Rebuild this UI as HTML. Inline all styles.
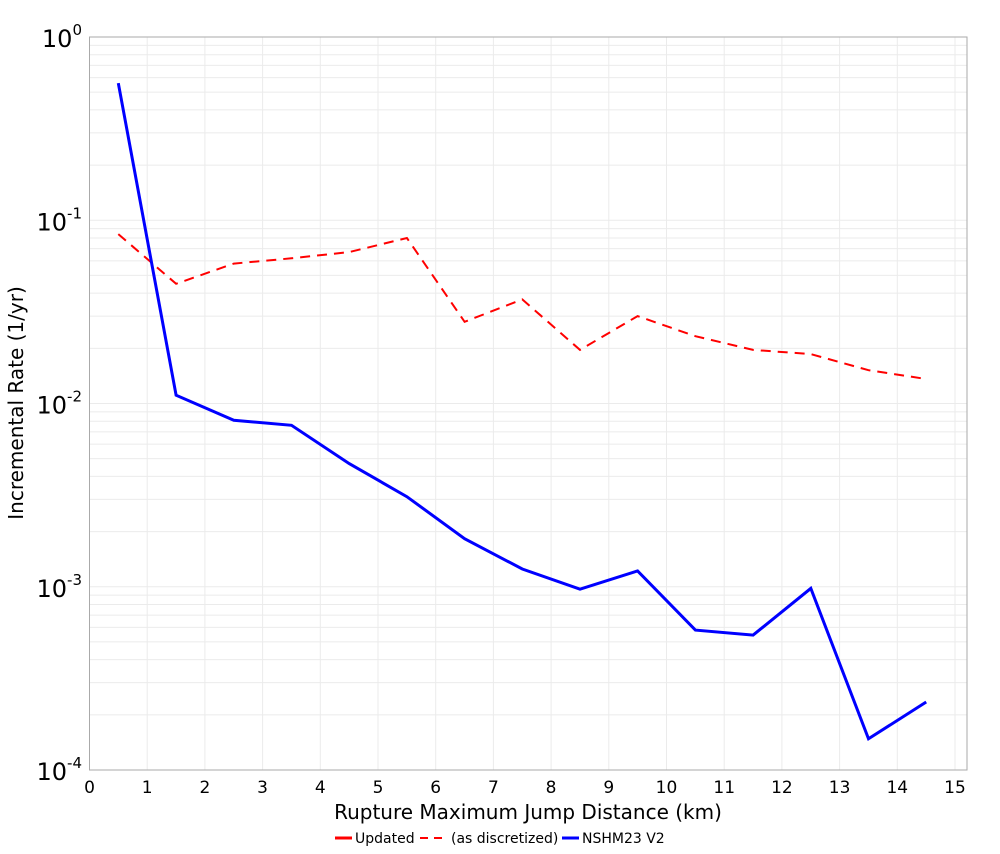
<!DOCTYPE html>
<html><head><meta charset="utf-8"><style>
body{margin:0;background:#fff;font-family:"DejaVu Sans","Liberation Sans",sans-serif}
</style></head><body>
<svg id="chart" width="1000" height="850" xmlns="http://www.w3.org/2000/svg">
<g id="grid"></g>
<g id="axes"></g>
<g id="series"></g>
<text x="528" y="819" text-anchor="middle" font-size="20">Rupture Maximum Jump Distance (km)</text>
<text transform="translate(23,403) rotate(-90)" text-anchor="middle" font-size="20">Incremental Rate (1/yr)</text>
<g font-size="14">
<g><line x1="335" y1="838" x2="352" y2="838" stroke="#f00" stroke-width="3"/><text x="355" y="843">Updated</text></g>
<g><line x1="420" y1="838" x2="448" y2="838" stroke="#f00" stroke-width="2" stroke-dasharray="8,6"/><text x="451" y="843">(as discretized)</text></g>
<g><line x1="562" y1="838" x2="579" y2="838" stroke="#00f" stroke-width="3"/><text x="582" y="843">NSHM23 V2</text></g>
</g>
</svg>
<script>
const xs=[0.5,1.5,2.5,3.5,4.5,5.5,6.5,7.5,8.5,9.5,10.5,11.5,12.5,13.5,14.5];
const nshm=[0.56,0.0111,0.0081,0.0076,0.0047,0.0031,0.00183,0.00125,0.00097,0.00122,0.00058,0.000545,0.00098,0.000148,0.000235];
const discretized=[0.084,0.045,0.058,0.062,0.067,0.080,0.0279,0.037,0.0196,0.030,0.0233,0.0196,0.0186,0.0152,0.0136];
const xTicks=[0,1,2,3,4,5,6,7,8,9,10,11,12,13,14,15];
const yExps=[0,-1,-2,-3,-4];
const L=89.5,R=967,T=37,B=770;
const X=v=>L+v*57.7;
const Y=v=>T+(-Math.log10(v))*(B-T)/4;
const NS="http://www.w3.org/2000/svg";
function mk(p,t,a){const e=document.createElementNS(NS,t);for(const k in a)e.setAttribute(k,a[k]);p.appendChild(e);return e;}
const grid=document.getElementById('grid'),axes=document.getElementById('axes'),series=document.getElementById('series');
for(let e=0;e>-4;e--){for(let m=1;m<10;m++){const y=Y(m*Math.pow(10,e-1));
const g=mk(grid,'line',{x1:L,x2:R,y1:y,y2:y,stroke:'#ebebeb','stroke-width':1});

}}
xTicks.forEach(t=>{const x=X(t);
const g=mk(grid,'line',{x1:x,x2:x,y1:T,y2:B,stroke:'#ebebeb','stroke-width':1});


const tx=mk(axes,'text',{x:x,y:793,'text-anchor':'middle','font-size':17});tx.textContent=t;

});
yExps.forEach(e=>{const y=Y(Math.pow(10,e));
const tx=mk(axes,'text',{x:82,y:y+10,'text-anchor':'end','font-size':24});


tx.textContent='10';const s=mk(tx,'tspan',{dy:-12,'font-size':15});s.textContent=e;});
const frame=mk(axes,'rect',{x:L,y:T,width:R-L,height:B-T,fill:'none',stroke:'#aaa','stroke-width':1});


function line(vals,attrs,name){const d=vals.map((v,i)=>(i?'L':'M')+X(xs[i]).toFixed(1)+','+Y(v).toFixed(1)).join('');
const p=mk(series,'path',Object.assign({d:d,fill:'none'},attrs));

}
line(discretized,{stroke:'#f00','stroke-width':2,'stroke-dasharray':'10,7'},'discretized-line');
line(nshm,{stroke:'#00f','stroke-width':3},'nshm23-v2-line');
</script>
</body></html>
